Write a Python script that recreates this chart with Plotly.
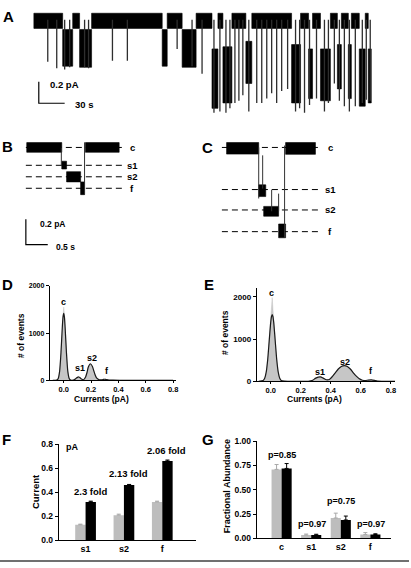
import plotly.graph_objects as go

W, H = 411, 568
FONT = "Liberation Sans"

# ---------------- Panel A : long single-channel recording (time s, current pA) ----------------
A_closed_start = [1.2, 46.2, 68.1, 155.8, 189.3, 214.6, 230.8, 253.9, 310.4, 324.3, 345.0, 357.7, 369.3, 385.4]
A_closed_end = [34.6, 54.2, 150.0, 173.1, 207.7, 220.4, 247.0, 300.0, 319.7, 333.5, 353.1, 365.8, 378.5, 388.9]
A_closed_top = 0.06
A_closed_bottom = -0.08
A_open_start = [34.6, 54.2, 150.0, 173.1, 207.7, 220.4, 247.0, 300.0, 319.7, 333.5, 353.1, 365.8, 378.5, 388.9]
A_open_end = [46.2, 68.1, 155.8, 189.3, 214.6, 230.8, 253.9, 310.4, 324.3, 345.0, 357.7, 369.3, 385.4, 392.4]
A_open_top = [-0.09, -0.09, -0.09, -0.09, -0.27, -0.25, -0.20, -0.23, -0.27, -0.27, -0.23, -0.23, -0.27, -0.27]
A_open_bottom = [-0.43, -0.44, -0.43, -0.44, -0.82, -0.77, -0.59, -0.77, -0.73, -0.75, -0.64, -0.73, -0.80, -0.77]
A_spike_t = [17.3, 27.7, 36.9, 42.7, 60.0, 64.6, 92.3, 109.6, 167.3, 184.6, 196.2, 210.0, 216.9, 223.9,
             228.5, 234.3, 238.9, 243.5, 250.4, 259.6, 265.4, 271.2, 276.9, 282.7, 288.5, 295.4, 304.6,
             309.3, 315.0, 320.8, 328.9, 338.1, 342.7, 349.6, 355.4, 361.2, 367.0, 373.9, 382.0, 386.6, 391.2]
A_spike_i = [-0.39, -0.45, -0.46, -0.44, -0.44, -0.45, -0.38, -0.38, -0.27, -0.43, -0.50, -0.86, -0.85, -0.86,
             -0.82, -0.77, -0.75, -0.70, -0.85, -0.77, -0.77, -0.73, -0.68, -0.77, -0.66, -0.64, -0.85,
             -0.82, -0.86, -0.79, -0.73, -0.85, -0.77, -0.59, -0.75, -0.80, -0.85, -0.80, -0.77, -0.74, -0.75]
A_scale_t = 30   # s
A_scale_i = 0.2  # pA

# ---------------- Panel B : wild-type event (s, pA) ----------------
B_level_names = ["c", "s1", "s2", "f"]
B_levels = [0.0, -0.14, -0.23, -0.32]
B_blk_start = [0.02, 0.82, 0.93, 1.25, 1.36]
B_blk_end = [0.82, 0.93, 1.25, 1.34, 2.13]
B_blk_top = [0.038, -0.108, -0.19, -0.27, 0.038]
B_blk_bottom = [-0.038, -0.169, -0.27, -0.37, -0.038]
B_jump_t = [0.81, 1.34]
B_jump_from = [0.0, -0.37]
B_jump_to = [-0.14, 0.04]
BC_scale_t = 0.5
BC_scale_i = 0.2

# ---------------- Panel C : mutant event (s, pA) ----------------
C_level_names = ["c", "s1", "s2", "f"]
C_levels = [0.0, -0.33, -0.49, -0.66]
C_blk_start = [0.107, 0.84, 0.953, 1.294, 1.453]
C_blk_end = [0.84, 1.0, 1.294, 1.453, 2.134]
C_blk_top = [0.0385, -0.293, -0.462, -0.60, 0.0385]
C_blk_bottom = [-0.052, -0.385, -0.539, -0.708, -0.054]
C_jump_t = [0.84, 0.93, 1.135, 1.294, 1.43]
C_jump_from = [0.0, -0.062, -0.50, -0.50, -0.708]
C_jump_to = [-0.40, -0.323, -0.331, -0.362, 0.015]

# ---------------- Panel D : amplitude histogram (wild type) ----------------
D_x = [-0.08, -0.05, -0.04, -0.03, -0.02, -0.01, -0.005, 0.0, 0.005, 0.01, 0.02, 0.03, 0.04, 0.05, 0.07,
       0.09, 0.10, 0.11, 0.12, 0.13, 0.145, 0.16, 0.17, 0.18, 0.195, 0.21, 0.22, 0.23, 0.24, 0.26,
       0.28, 0.29, 0.30, 0.31, 0.33, 0.36, 0.45, 0.60, 0.80]
D_fit = [0, 6, 40, 190, 585, 1136, 1343, 1420, 1343, 1136, 585, 190, 40, 6, 2,
         40, 62, 70, 55, 25, 12, 70, 160, 280, 350, 290, 200, 110, 50, 10,
         10, 18, 22, 16, 4, 1, 0, 0, 0]
D_hist = [0, 6, 40, 190, 585, 1150, 1400, 1550, 1400, 1150, 585, 190, 40, 6, 2,
          40, 62, 70, 55, 25, 12, 70, 160, 280, 350, 290, 200, 110, 50, 10,
          10, 18, 22, 16, 4, 1, 0, 0, 0]
D_label_text = ["c", "s1", "s2", "f"]
D_label_x = [0.0, 0.116, 0.21, 0.32]
D_label_y = [1667, 250, 480, 190]

# ---------------- Panel E : amplitude histogram (mutant) ----------------
E_x = [-0.08, -0.05, -0.04, -0.03, -0.02, -0.01, 0.0, 0.005, 0.01, 0.015, 0.02, 0.03, 0.04, 0.05, 0.06,
       0.07, 0.09, 0.15, 0.25, 0.28, 0.30, 0.33, 0.35, 0.37, 0.39, 0.41, 0.43, 0.45, 0.47, 0.49,
       0.51, 0.53, 0.55, 0.57, 0.59, 0.61, 0.63, 0.65, 0.67, 0.69, 0.71, 0.76, 0.85]
E_fit = [0, 17, 70, 214, 513, 959, 1394, 1531, 1580, 1531, 1394, 959, 513, 214, 70,
         17, 1, 0, 0, 25, 75, 105, 75, 35, 40, 110, 200, 290, 350, 370,
         350, 290, 200, 120, 60, 25, 15, 28, 35, 22, 5, 0, 0]
E_hist = [0, 17, 70, 214, 513, 959, 1394, 1700, 1980, 1700, 1394, 959, 513, 214, 70,
          17, 1, 0, 0, 25, 75, 105, 75, 35, 40, 110, 200, 290, 350, 370,
          350, 290, 200, 120, 60, 25, 15, 28, 35, 22, 5, 0, 0]
E_label_text = ["c", "s1", "s2", "f"]
E_label_x = [0.005, 0.33, 0.495, 0.67]
E_label_y = [2093, 225, 458, 240]

# ---------------- Panel F : sublevel currents ----------------
F_cats = ["s1", "s2", "f"]
F_wt = [0.13, 0.21, 0.32]
F_wt_err = [0.005, 0.008, 0.006]
F_mut = [0.32, 0.46, 0.66]
F_mut_err = [0.006, 0.005, 0.008]
F_fold = ["2.3 fold", "2.13 fold", "2.06 fold"]
F_fold_y = [0.41, 0.56, 0.75]

# ---------------- Panel G : fractional abundance ----------------
G_cats = ["c", "s1", "s2", "f"]
G_wt = [0.71, 0.035, 0.21, 0.04]
G_wt_err = [0.05, 0.01, 0.05, 0.02]
G_mut = [0.72, 0.035, 0.19, 0.04]
G_mut_err = [0.05, 0.008, 0.04, 0.008]
G_p = ["p=0.85", "p=0.97", "p=0.75", "p=0.97"]
G_p_y = [0.86, 0.15, 0.38, 0.15]

GRAY = "#bdbdbd"


def px(x):
    return x / W


def py(y):
    return 1 - y / H


def boxes(t0, t1, hi, lo):
    xs, ys = [], []
    for a, b, h, l in zip(t0, t1, hi, lo):
        xs += [a, b, b, a, a, None]
        ys += [h, h, l, l, h, None]
    return xs, ys


def segs(t, i0, i1):
    xs, ys = [], []
    for a, b, c in zip(t, i0, i1):
        xs += [a, a, None]
        ys += [b, c, None]
    return xs, ys


fig = go.Figure()


def add(tr, n):
    suffix = "" if n == 1 else str(n)
    tr.update(xaxis="x" + suffix, yaxis="y" + suffix, showlegend=False, hoverinfo="skip")
    fig.add_trace(tr)


# ----- A -----
xs, ys = boxes(A_closed_start, A_closed_end, [A_closed_top] * len(A_closed_start),
               [A_closed_bottom] * len(A_closed_start))
xo, yo = boxes(A_open_start, A_open_end, A_open_top, A_open_bottom)
add(go.Scatter(x=xs + xo, y=ys + yo, mode="lines", fill="toself", fillcolor="black",
               line=dict(color="black", width=0.6)), 1)
sx, sy = segs(A_spike_t, [0.0] * len(A_spike_t), A_spike_i)
add(go.Scatter(x=sx, y=sy, mode="lines", line=dict(color="#2e2e2e", width=1.3)), 1)
a_t0, a_i0 = 6.9, -0.773
add(go.Scatter(x=[a_t0, a_t0, a_t0 + A_scale_t], y=[a_i0 + A_scale_i, a_i0, a_i0], mode="lines",
               line=dict(color="black", width=1.2)), 1)

# ----- B and C -----
for n, names, levels, bs, be, bt, bb, jt, jf, jto, dash_end, sb in [
    (2, B_level_names, B_levels, B_blk_start, B_blk_end, B_blk_top, B_blk_bottom,
     B_jump_t, B_jump_from, B_jump_to, 2.25, (0.0, -0.762)),
    (3, C_level_names, C_levels, C_blk_start, C_blk_end, C_blk_top, C_blk_bottom,
     C_jump_t, C_jump_from, C_jump_to, 2.27, None),
]:
    dx, dy = [], []
    for lv in levels:
        dx += [0.0, dash_end, None]
        dy += [lv, lv, None]
    add(go.Scatter(x=dx, y=dy, mode="lines", line=dict(color="black", width=1, dash="6px,4px")), n)
    xb, yb = boxes(bs, be, bt, bb)
    add(go.Scatter(x=xb, y=yb, mode="lines", fill="toself", fillcolor="black",
                   line=dict(color="black", width=0.6)), n)
    jx, jy = segs(jt, jf, jto)
    add(go.Scatter(x=jx, y=jy, mode="lines", line=dict(color="#333333", width=1)), n)
    if sb:
        add(go.Scatter(x=[sb[0], sb[0], sb[0] + BC_scale_t], y=[sb[1] + BC_scale_i, sb[1], sb[1]],
                       mode="lines", line=dict(color="black", width=1.2)), n)

# ----- D and E -----
for n, x, fit, hist in [(4, D_x, D_fit, D_hist), (5, E_x, E_fit, E_hist)]:
    add(go.Scatter(x=x, y=hist, mode="lines", fill="tozeroy", fillcolor="#c6c6c6",
                   line=dict(color="#c6c6c6", width=0.5)), n)
    add(go.Scatter(x=x, y=fit, mode="lines", line=dict(color="#1a1a1a", width=1.2, shape="spline",
                                                      smoothing=0.6)), n)

# ----- F and G -----
for n, cats, wt, wte, mu, mue, bw in [(6, F_cats, F_wt, F_wt_err, F_mut, F_mut_err, 0.27),
                                       (7, G_cats, G_wt, G_wt_err, G_mut, G_mut_err, 0.34)]:
    idx = list(range(len(cats)))
    add(go.Bar(x=idx, y=wt, width=bw, offset=-bw, marker=dict(color=GRAY, line=dict(width=0)),
               error_y=dict(type="data", array=wte, arrayminus=[0] * len(wt), symmetric=False,
                            color="#a8a8a8", thickness=1, width=2)), n)
    add(go.Bar(x=idx, y=mu, width=bw, offset=0, marker=dict(color="black", line=dict(width=0)),
               error_y=dict(type="data", array=mue, arrayminus=[0] * len(mu), symmetric=False,
                            color="black", thickness=1, width=2)), n)


def bold(v):
    return "<b>%s</b>" % v


def axis(domain, rng, **kw):
    d = dict(domain=domain, range=rng, showline=True, linecolor="black", linewidth=1,
             ticks="outside", ticklen=3, tickwidth=1, tickcolor="black", showgrid=False,
             zeroline=False, fixedrange=True, tickfont=dict(family=FONT, size=8.5, color="black"))
    d.update(kw)
    return d


hidden = dict(visible=False, fixedrange=True)

lay = dict(
    width=W, height=H, margin=dict(l=0, r=0, t=0, b=0), autosize=False,
    paper_bgcolor="white", plot_bgcolor="white", barmode="overlay",
    font=dict(family=FONT, color="black"),
    xaxis=dict(domain=[px(33), px(375)], range=[0, 394.6], anchor="y", **hidden),
    yaxis=dict(domain=[py(112), py(5)], range=[-0.882, 0.091], anchor="x", **hidden),
    xaxis2=dict(domain=[px(24), px(140)], range=[-0.045, 2.59], anchor="y2", **hidden),
    yaxis2=dict(domain=[py(252), py(135)], range=[-0.824, 0.077], anchor="x2", **hidden),
    xaxis3=dict(domain=[px(221), px(345)], range=[-0.045, 2.77], anchor="y3", **hidden),
    yaxis3=dict(domain=[py(245), py(135)], range=[-0.77, 0.077], anchor="x3", **hidden),
    xaxis4=axis([px(50), px(177)], [-0.102, 0.822], anchor="y4", ticklen=2,
                tickvals=[0, 0.2, 0.4, 0.6, 0.8], ticktext=[bold(v) for v in ["0.0", "0.2", "0.4", "0.6", "0.8"]],
                tickfont=dict(family=FONT, size=7.5, color="black")),
    yaxis4=axis([py(382), py(286)], [0, 2000], anchor="x4",
                tickvals=[0, 1000, 2000], ticktext=[bold(v) for v in ["0", "1000", "2000"]],
                tickfont=dict(family=FONT, size=7, color="black")),
    xaxis5=axis([px(258), px(397)], [-0.093, 0.828], anchor="y5", ticklen=2,
                tickvals=[0, 0.2, 0.4, 0.6, 0.8], ticktext=[bold(v) for v in ["0.0", "0.2", "0.4", "0.6", "0.8"]],
                tickfont=dict(family=FONT, size=7.5, color="black")),
    yaxis5=axis([py(383), py(288)], [0, 2209], anchor="x5",
                tickvals=[0, 1000, 2000], ticktext=[bold(v) for v in ["0", "1000", "2000"]],
                tickfont=dict(family=FONT, size=8, color="black")),
    xaxis6=axis([px(59), px(197)], [-0.70, 2.88], anchor="y6", ticks="",
                tickvals=list(range(len(F_cats))), ticktext=[bold(c) for c in F_cats],
                tickfont=dict(family=FONT, size=9, color="black")),
    yaxis6=axis([py(545), py(447)], [0, 0.8], anchor="x6",
                tickvals=[0, 0.2, 0.4, 0.6, 0.8], ticktext=[bold(v) for v in ["0.0", "0.2", "0.4", "0.6", "0.8"]]),
    xaxis7=axis([px(258), px(393)], [-0.84, 3.70], anchor="y7", ticks="",
                tickvals=list(range(len(G_cats))), ticktext=[bold(c) for c in G_cats],
                tickfont=dict(family=FONT, size=9, color="black")),
    yaxis7=axis([py(543), py(444)], [0, 1.0], anchor="x7",
                tickvals=[0, 0.25, 0.5, 0.75, 1.0], ticktext=[bold(v) for v in ["0.00", "0.25", "0.50", "0.75", "1.00"]]),
)
fig.update_layout(**lay)

ann = []


def txt(x, y, s, size=9, xanchor="center", angle=0):
    ann.append(dict(x=px(x), y=py(y), xref="paper", yref="paper", text=bold(s), showarrow=False,
                    xanchor=xanchor, yanchor="middle", textangle=angle,
                    font=dict(family=FONT, size=size, color="black")))


def dtxt(n, x, y, s, size=9):
    ann.append(dict(x=x, y=y, xref="x%d" % n, yref="y%d" % n, text=bold(s), showarrow=False,
                    xanchor="center", yanchor="middle", font=dict(family=FONT, size=size, color="black")))


# panel letters
for lt, x, y in [("A", 9, 12), ("B", 8, 144), ("C", 209, 145), ("D", 8, 285), ("E", 210, 285),
                 ("F", 7, 442), ("G", 209, 442)]:
    txt(x, y, lt, size=15)

# scale bar labels
txt(48, 81, "0.2 pA", size=9.5, xanchor="left")
txt(73, 101, "30 s", size=9.5, xanchor="left")
txt(38, 223, "0.2 pA", size=8.5, xanchor="left")
txt(54, 246, "0.5 s", size=8.5, xanchor="left")

# level labels B / C
for nm, lv in zip(B_level_names, B_levels):
    ann.append(dict(x=2.43, y=lv, xref="x2", yref="y2", text=bold(nm), showarrow=False,
                    xanchor="center", yanchor="middle", font=dict(family=FONT, size=9.5, color="black")))
for nm, lv in zip(C_level_names, C_levels):
    ann.append(dict(x=2.47, y=lv, xref="x3", yref="y3", text=bold(nm), showarrow=False,
                    xanchor="center", yanchor="middle", font=dict(family=FONT, size=9.5, color="black")))

# histogram labels
for s, x, y in zip(D_label_text, D_label_x, D_label_y):
    dtxt(4, x, y, s, size=9)
for s, x, y in zip(E_label_text, E_label_x, E_label_y):
    dtxt(5, x, y, s, size=9)

# axis titles
txt(21, 336, "# of events", size=8.5, angle=-90)
txt(102, 401, "Currents (pA)", size=8.5)
txt(226, 333, "# of events", size=8.5, angle=-90)
txt(316, 401, "Currents (pA)", size=8.5)
txt(35, 495, "Current", size=9.5, angle=-90)
txt(228, 490, "Fractional Abundance", size=9, angle=-90)

# bar annotations
for i, (s, y) in enumerate(zip(F_fold, F_fold_y)):
    dtxt(6, i + 0.12, y, s, size=9.5)
dtxt(6, -0.36, 0.773, "pA", size=9)
for i, (s, y) in enumerate(zip(G_p, G_p_y)):
    dtxt(7, i + 0.02, y, s, size=9)

fig.update_layout(annotations=ann)
fig.add_shape(type="line", xref="paper", yref="paper", x0=0, x1=1, y0=py(566), y1=py(566),
              line=dict(color="#707070", width=2))

fig.write_html("out.html", config={"displayModeBar": False, "staticPlot": True})
